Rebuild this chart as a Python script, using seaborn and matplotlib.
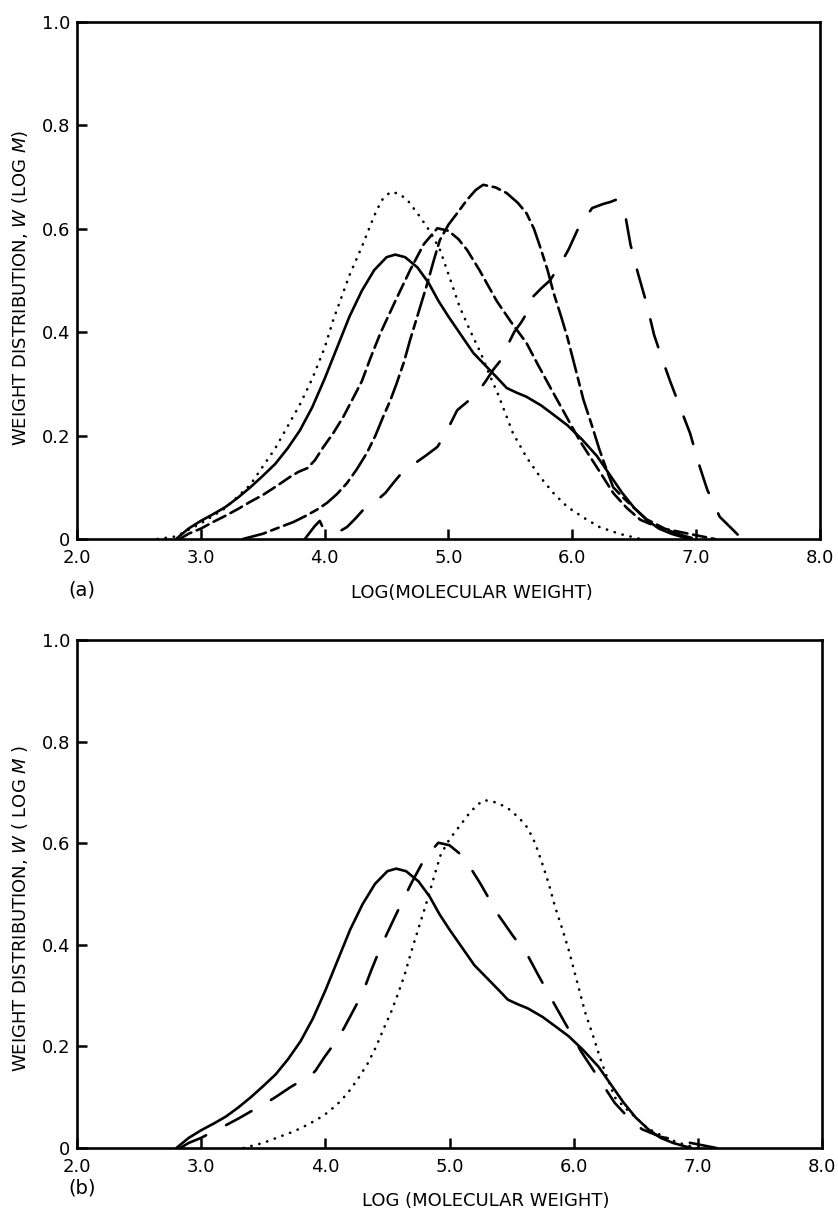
import matplotlib
matplotlib.use("Agg")
import matplotlib.pyplot as plt
import pandas as pd
import seaborn as sns

# log(molecular weight) vs W(log M)
solid_x = [2.8, 2.85, 2.9, 3.0, 3.1, 3.2, 3.3, 3.4, 3.5, 3.6, 3.7, 3.8, 3.9, 4.0,
           4.1, 4.2, 4.3, 4.4, 4.5, 4.57, 4.65, 4.75, 4.84, 4.92, 5.0, 5.1, 5.2,
           5.3, 5.4, 5.47, 5.55, 5.63, 5.75, 5.85, 5.96, 6.08, 6.2, 6.3, 6.4, 6.5,
           6.6, 6.7, 6.8, 6.9, 6.95]
solid_y = [0, 0.01, 0.02, 0.035, 0.048, 0.062, 0.08, 0.1, 0.122, 0.145, 0.175, 0.21,
           0.255, 0.31, 0.37, 0.43, 0.48, 0.52, 0.545, 0.55, 0.545, 0.525, 0.495,
           0.46, 0.43, 0.395, 0.36, 0.335, 0.31, 0.292, 0.283, 0.275, 0.258, 0.24,
           0.22, 0.192, 0.16, 0.125, 0.09, 0.06, 0.037, 0.02, 0.01, 0.003, 0]

dotted_x = [2.65, 2.8, 3.0, 3.2, 3.4, 3.6, 3.8, 3.9, 4.0, 4.07, 4.2, 4.3, 4.4, 4.46,
            4.53, 4.6, 4.67, 4.77, 4.85, 4.93, 5.01, 5.09, 5.18, 5.26, 5.33, 5.4,
            5.52, 5.63, 5.74, 5.85, 5.96, 6.1, 6.22, 6.38, 6.55]
dotted_y = [0, 0.005, 0.03, 0.06, 0.105, 0.175, 0.26, 0.31, 0.37, 0.424, 0.51, 0.565,
            0.625, 0.655, 0.671, 0.668, 0.655, 0.623, 0.595, 0.56, 0.505, 0.449,
            0.4, 0.36, 0.318, 0.28, 0.205, 0.158, 0.12, 0.088, 0.062, 0.04, 0.023,
            0.01, 0]

mid_x = [2.83, 2.9, 3.0, 3.1, 3.2, 3.3, 3.4, 3.5, 3.61, 3.72, 3.79, 3.86, 3.92, 3.99,
         4.07, 4.15, 4.22, 4.3, 4.37, 4.45, 4.57, 4.69, 4.8, 4.91, 5.0, 5.08, 5.15,
         5.25, 5.39, 5.51, 5.63, 5.72, 5.82, 5.94, 6.06, 6.2, 6.33, 6.44, 6.55, 6.7,
         6.9, 7.15]
mid_y = [0, 0.01, 0.02, 0.033, 0.045, 0.058, 0.072, 0.085, 0.102, 0.12, 0.13, 0.137,
         0.152, 0.178, 0.205, 0.236, 0.268, 0.305, 0.35, 0.398, 0.46, 0.52, 0.57,
         0.601, 0.596, 0.58, 0.559, 0.52, 0.46, 0.418, 0.379, 0.338, 0.294, 0.242,
         0.19, 0.138, 0.089, 0.06, 0.037, 0.022, 0.012, 0]

high_x = [3.34, 3.5, 3.64, 3.75, 3.85, 3.94, 4.02, 4.1, 4.18, 4.26, 4.34, 4.41, 4.47,
          4.53, 4.58, 4.64, 4.69, 4.76, 4.83, 4.88, 4.93, 5.0, 5.07, 5.15, 5.22,
          5.28, 5.38, 5.47, 5.56, 5.63, 5.69, 5.74, 5.8, 5.85, 5.91, 5.96, 6.03,
          6.09, 6.16, 6.22, 6.28, 6.33, 6.41, 6.49, 6.6, 6.77, 6.9, 7.0]
high_y = [0, 0.01, 0.023, 0.033, 0.045, 0.057, 0.07, 0.087, 0.108, 0.135, 0.166,
          0.2, 0.235, 0.268, 0.3, 0.342, 0.385, 0.44, 0.495, 0.538, 0.578, 0.608,
          0.63, 0.656, 0.675, 0.685, 0.68, 0.669, 0.65, 0.63, 0.6, 0.565, 0.52,
          0.475, 0.43, 0.39, 0.325, 0.269, 0.218, 0.172, 0.132, 0.1, 0.08, 0.062,
          0.038, 0.017, 0.006, 0]

top_x = [3.84, 3.92, 3.96, 3.99, 4.1, 4.18, 4.25, 4.31, 4.4, 4.49, 4.56, 4.63, 4.72,
         4.81, 4.91, 4.96, 5.02, 5.07, 5.15, 5.23, 5.3, 5.36, 5.42, 5.47, 5.53, 5.59,
         5.64, 5.68, 5.75, 5.82, 5.9, 5.97, 6.05, 6.16, 6.25, 6.31, 6.35, 6.4, 6.43,
         6.47, 6.53, 6.6, 6.66, 6.72, 6.79, 6.9, 6.95, 7.03, 7.09, 7.19, 7.3, 7.37]
top_y = [0, 0.025, 0.035, 0.02, 0.012, 0.023, 0.04, 0.056, 0.07, 0.089, 0.11, 0.13,
         0.145, 0.16, 0.178, 0.197, 0.225, 0.249, 0.265, 0.282, 0.305, 0.327, 0.345,
         0.371, 0.4, 0.42, 0.44, 0.468, 0.485, 0.5, 0.53, 0.56, 0.602, 0.64, 0.648,
         0.652, 0.656, 0.642, 0.623, 0.569, 0.514, 0.455, 0.395, 0.352, 0.305, 0.236,
         0.205, 0.139, 0.095, 0.043, 0.017, 0]

x_ticks = [2, 3, 4, 5, 6, 7, 8]
x_tick_labels = ["2.0", "3.0", "4.0", "5.0", "6.0", "7.0", "8.0"]
y_ticks = [0, 0.2, 0.4, 0.6, 0.8, 1.0]
y_tick_labels = ["0", "0.2", "0.4", "0.6", "0.8", "1.0"]

DOT = (0, (0.1, 3.0))
MID_DASH = (0, (5.0, 2.2))
DASH_DOT = (0, (9, 2.2, 3, 2.2))
LONG_DASH = (0, (11, 8.5))


def curve(ax, xs, ys, ls):
    df = pd.DataFrame({"x": xs, "y": ys})
    sns.lineplot(data=df, x="x", y="y", ax=ax, color="black", lw=1.9,
                 linestyle=ls, dash_capstyle="round", solid_joinstyle="round",
                 errorbar=None)


def style_axes(ax, ylabel, xlabel, ylab_y, xlab_x, tag, tag_y):
    ax.set_xlim(2, 8)
    ax.set_ylim(0, 1)
    ax.set_xticks(x_ticks, x_tick_labels)
    ax.set_yticks(y_ticks, y_tick_labels)
    ax.tick_params(direction="in", length=7, width=1.8, labelsize=13,
                   bottom=True, left=True, top=False, right=False,
                   color="black", labelcolor="black")
    ax.tick_params(axis="x", pad=7)
    ax.tick_params(axis="y", pad=5)
    for s in ax.spines.values():
        s.set_visible(True)
        s.set_linewidth(1.9)
        s.set_color("black")
    ax.set_xlabel(xlabel, fontsize=13, color="black")
    ax.set_ylabel(ylabel, fontsize=13, color="black")
    ax.xaxis.label.set_va("center")
    ax.yaxis.label.set_va("center")
    ax.xaxis.set_label_coords(xlab_x, -0.105)
    ax.yaxis.set_label_coords(-0.077, ylab_y)
    ax.text(0.007, tag_y, tag, transform=ax.transAxes, ha="center", va="center",
            fontsize=14, color="black")


sns.set_theme(style="white")
plt.rcParams["font.family"] = ["DejaVu Sans"]
plt.rcParams["text.color"] = "black"
plt.rcParams["axes.labelcolor"] = "black"

fig = plt.figure(figsize=(8.38, 12.12), dpi=100)
ax_a = fig.add_axes([0.0919, 0.5553, 0.8866, 0.4266])
ax_b = fig.add_axes([0.0919, 0.0528, 0.8890, 0.4191])

curve(ax_a, dotted_x, dotted_y, DOT)
curve(ax_a, solid_x, solid_y, "-")
curve(ax_a, mid_x, mid_y, MID_DASH)
curve(ax_a, high_x, high_y, DASH_DOT)
curve(ax_a, top_x, top_y, LONG_DASH)
style_axes(ax_a, r"WEIGHT DISTRIBUTION, $W$ (LOG $M$)", "LOG(MOLECULAR WEIGHT)",
           0.485, 0.532, "(a)", -0.099)

curve(ax_b, solid_x, solid_y, "-")
curve(ax_b, mid_x, mid_y, LONG_DASH)
curve(ax_b, high_x, high_y, DOT)
style_axes(ax_b, r"WEIGHT DISTRIBUTION, $W$ ( LOG $M$ )", "LOG (MOLECULAR WEIGHT)",
           0.472, 0.549, "(b)", -0.079)

fig.savefig("out.png", dpi=100)
